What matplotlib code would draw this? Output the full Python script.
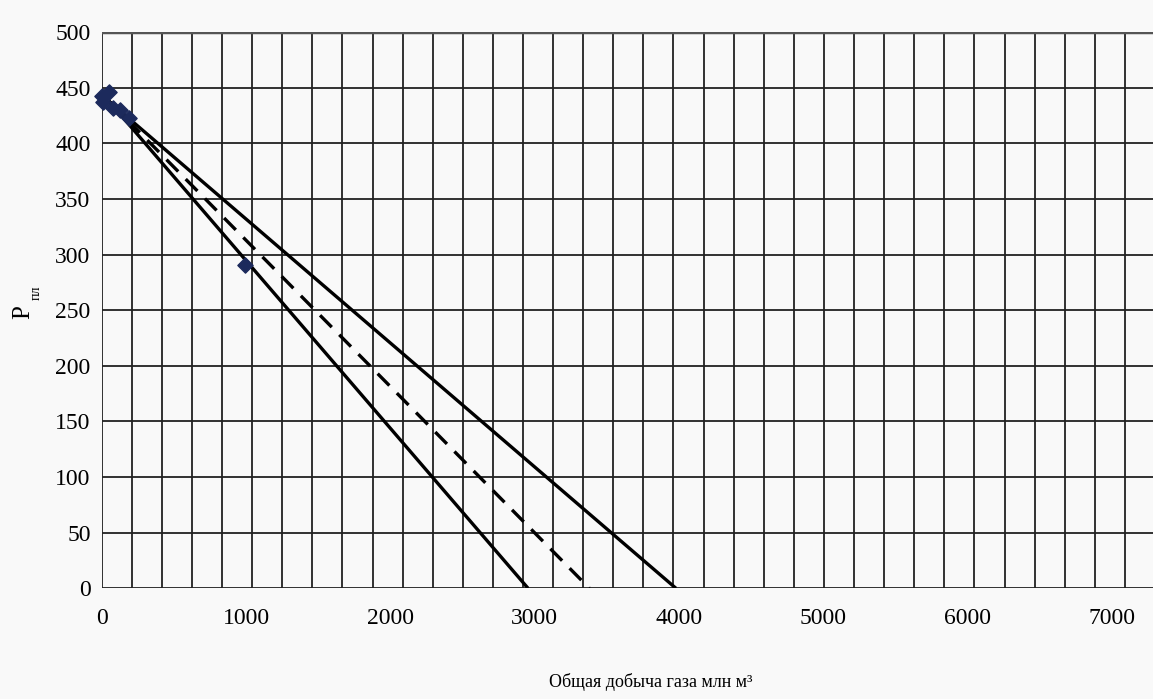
import numpy as np
import matplotlib
matplotlib.use("Agg")
import matplotlib.pyplot as plt

# data
pts_x = [0, 10, 50, 80, 130, 190, 990]
pts_y = [443, 437, 446, 432, 430, 423, 291]
line_start = (50, 438)
line_lower_end = 2955
line_mid_end = 3380
line_upper_end = 3980
x_ticks = [0, 1000, 2000, 3000, 4000, 5000, 6000, 7000]
y_ticks = [0, 50, 100, 150, 200, 250, 300, 350, 400, 450, 500]
x_max = 7300
n_vgrid = 35

W, H = 1153, 699
fig = plt.figure(figsize=(W / 100, H / 100), dpi=100)
bg = '#f9f9f9'
fig.patch.set_facecolor(bg)
serif = ['Liberation Serif', 'DejaVu Serif']

left, right, top, bottom = 101.7, 1155.0, 32.3, 588.3
ax = fig.add_axes([left / W, 1 - bottom / H, (right - left) / W, (bottom - top) / H])
ax.set_facecolor(bg)
ax.set_xlim(0, x_max)
ax.set_ylim(0, 500)

# grid
for gx in np.linspace(0, x_max, n_vgrid + 1):
    ax.axvline(gx, color='#222222', lw=1.3, zorder=1)
for gy in y_ticks:
    ax.axhline(gy, color='#222222', lw=1.3, zorder=1)
ax.axhline(500, color='#555555', lw=2.5, zorder=1)

for s in ax.spines.values():
    s.set_visible(False)

ax.set_xticks(x_ticks)
ax.set_yticks(y_ticks)
ax.tick_params(length=0)
ax.tick_params(axis='x', pad=14)
ax.tick_params(axis='y', pad=8)
for lab in ax.get_xticklabels() + ax.get_yticklabels():
    lab.set_fontfamily(serif)
    lab.set_fontsize(17)

# lines
ax.plot([line_start[0], line_lower_end], [line_start[1], 0], color='black', lw=2.4, zorder=3, solid_capstyle='butt')
ax.plot([line_start[0], line_upper_end], [line_start[1], 0], color='black', lw=2.4, zorder=3, solid_capstyle='butt')
ax.plot([line_start[0], line_mid_end], [line_start[1], 0], color='black', lw=2.4, zorder=3,
        linestyle=(0, (5, 3.2)))

# points
ax.scatter(pts_x, pts_y, marker='D', s=60, color='#1c2a5c', zorder=4, clip_on=False)

# labels
fig.text(651 / W, 1 - 682 / H, 'Общая добыча газа млн м³', family=serif, fontsize=13,
         ha='center', va='center')
fig.text(23 / W, 1 - 312 / H, 'P', family=serif, fontsize=18, rotation=90, ha='center', va='center')
fig.text(36 / W, 1 - 293 / H, 'пл', family=serif, fontsize=10, rotation=90, ha='center', va='center')

fig.savefig('out.png', dpi=100, facecolor=bg)
